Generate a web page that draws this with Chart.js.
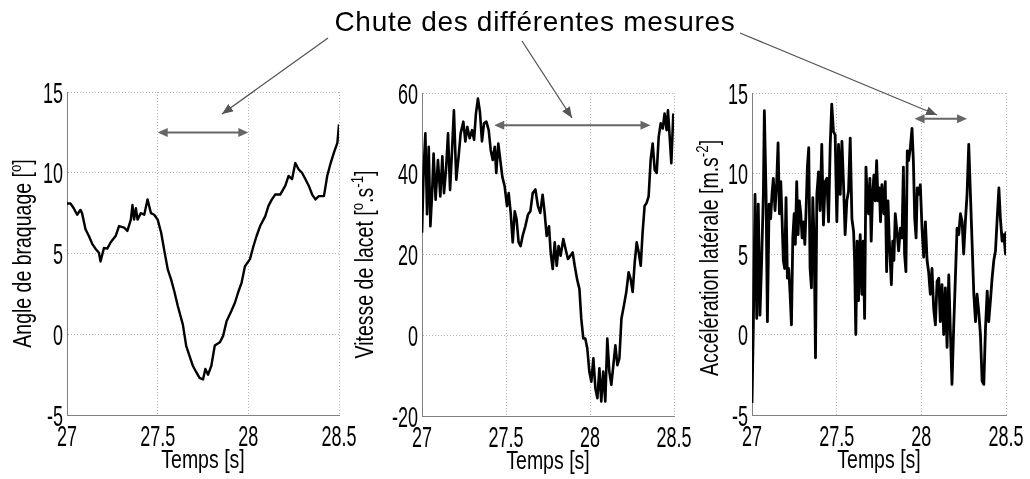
<!DOCTYPE html>
<html>
<head>
<meta charset="utf-8">
<script src="https://cdn.jsdelivr.net/npm/chart.js@4.4.1/dist/chart.umd.min.js"></script>
<style>
html, body { margin: 0; padding: 0; background: #fff; }
#wrap { position: relative; width: 1030px; height: 479px; overflow: hidden; }
#wrap canvas, #wrap svg { position: absolute; left: 0; top: 0; }
</style>
</head>
<body>
<div id="wrap">
  <canvas id="graph1" width="1030" height="479"></canvas>
  <canvas id="graph2" width="1030" height="479"></canvas>
  <canvas id="graph3" width="1030" height="479"></canvas>
  <svg width="1030" height="479" viewBox="0 0 1030 479">
    <defs>
      <marker id="head" markerUnits="userSpaceOnUse" markerWidth="11" markerHeight="9" refX="11" refY="4.5" orient="auto">
        <path d="M0,0 L11,4.5 L0,9 z" fill="#555"></path>
      </marker>
    </defs>
    <text x="535" y="31" text-anchor="middle" font-family="Liberation Sans, Arial, sans-serif" font-size="28" letter-spacing="0.7" fill="#000">Chute des différentes mesures</text>
    <line x1="328" y1="38" x2="222" y2="114" stroke="#555" stroke-width="1.3" marker-end="url(#head)"></line>
    <line x1="522" y1="41" x2="572" y2="118" stroke="#555" stroke-width="1.3" marker-end="url(#head)"></line>
    <line x1="740" y1="33" x2="937" y2="115" stroke="#555" stroke-width="1.3" marker-end="url(#head)"></line>
  </svg>
</div>
<script>
var tAngle = [27.000,27.019,27.037,27.056,27.074,27.083,27.102,27.120,27.139,27.157,27.176,27.185,27.204,27.222,27.241,27.269,27.287,27.315,27.333,27.352,27.361,27.370,27.380,27.389,27.407,27.426,27.444,27.463,27.481,27.500,27.519,27.537,27.556,27.574,27.593,27.611,27.639,27.657,27.676,27.694,27.713,27.731,27.750,27.763,27.778,27.796,27.815,27.843,27.861,27.880,27.907,27.926,27.944,27.963,27.981,28.009,28.028,28.046,28.065,28.093,28.111,28.130,28.148,28.176,28.204,28.222,28.241,28.259,28.278,28.296,28.315,28.333,28.352,28.370,28.389,28.417,28.435,28.454,28.472,28.491,28.500];
var angle = [8.1,8.1,7.8,7.4,7.7,7.5,6.5,6.1,5.6,5.3,5.05,4.5,5.35,5.3,5.7,6.1,6.7,6.6,6.4,7.1,8.0,7.1,7.8,7.1,7.5,7.4,8.35,7.5,7.4,7.1,6.3,5.15,4.0,3.4,2.6,1.75,0.6,-0.7,-1.35,-1.95,-2.35,-2.7,-2.8,-2.15,-2.5,-1.95,-0.7,-0.5,-0.1,0.8,1.45,1.95,2.6,3.2,4.2,4.65,5.45,6.1,6.7,7.3,7.95,8.35,8.65,8.65,9.2,9.8,9.6,10.6,10.2,10.0,9.6,9.2,8.65,8.35,8.55,8.55,9.8,10.6,11.25,11.85,13.0];

var tLacet = [27.000,27.010,27.020,27.030,27.040,27.050,27.060,27.069,27.081,27.095,27.109,27.121,27.131,27.143,27.155,27.167,27.179,27.190,27.204,27.218,27.230,27.246,27.258,27.270,27.284,27.298,27.310,27.321,27.333,27.345,27.357,27.369,27.383,27.397,27.409,27.421,27.433,27.442,27.454,27.466,27.478,27.492,27.506,27.516,27.528,27.540,27.552,27.563,27.575,27.587,27.599,27.615,27.631,27.645,27.659,27.675,27.690,27.704,27.718,27.730,27.742,27.756,27.766,27.778,27.790,27.802,27.813,27.825,27.841,27.855,27.869,27.883,27.897,27.909,27.923,27.937,27.948,27.960,27.972,27.984,27.996,28.008,28.020,28.032,28.044,28.056,28.067,28.079,28.091,28.103,28.115,28.127,28.139,28.151,28.163,28.175,28.187,28.202,28.216,28.230,28.242,28.254,28.266,28.278,28.290,28.302,28.313,28.325,28.337,28.349,28.361,28.373,28.385,28.397,28.409,28.421,28.433,28.444,28.456,28.464,28.476,28.484,28.496];
var lacet = [25.4,41,50,30,46.7,27,35,45,33.6,43.4,34.4,44.3,35.2,41,50,36,45.9,55.7,38.5,44.3,50,52.9,48,51.6,48.8,50.8,48.4,54.9,58.6,55.3,48,52.5,52.9,50.8,45.9,43.4,46.7,40.2,47.5,43.4,39.3,36.9,32,35.2,30.3,23,30.7,28.7,23,22.1,24.6,27,29.9,30.7,35.2,36.1,32,30.3,34.8,30.3,24.6,27,20.5,16.4,23,17.2,22.1,19.7,23.8,21.3,18.9,19.7,20.5,17.2,13.9,11.5,4.1,-0.8,-0.8,-3.3,-9,-11.5,-5.7,-13.1,-15.6,-8.2,-16.4,-9,-16.4,-0.8,-9,-12.3,-7.4,-2.5,-7.4,-5.7,4.1,7.4,10.7,15.6,13.9,10.7,18,23,20.5,17.2,25.4,32,32.8,34.4,43.4,47.5,41,40.2,49.2,52.5,51.2,54.9,50.8,55.7,48,42.6,54.9];

var tAccel = [27.000,27.008,27.018,27.028,27.037,27.047,27.057,27.067,27.073,27.083,27.091,27.101,27.110,27.118,27.126,27.136,27.146,27.154,27.162,27.170,27.178,27.185,27.193,27.201,27.209,27.217,27.225,27.233,27.241,27.249,27.256,27.264,27.272,27.280,27.288,27.296,27.304,27.312,27.320,27.327,27.335,27.343,27.351,27.359,27.367,27.375,27.383,27.393,27.402,27.412,27.422,27.432,27.442,27.452,27.462,27.471,27.481,27.491,
  27.501,27.511,27.521,27.531,27.540,27.550,27.560,27.570,27.580,27.590,27.600,27.606,27.613,27.621,27.629,27.639,27.649,27.657,27.665,27.673,27.680,27.688,27.696,27.704,27.712,27.720,27.728,27.736,27.744,27.752,27.759,27.767,27.779,27.787,27.795,27.803,27.811,27.823,27.831,27.838,27.846,27.856,27.866,27.876,27.886,27.894,27.901,27.909,27.917,27.925,27.935,27.945,27.953,27.961,27.969,27.976,27.984,
  27.994,28.004,28.014,28.024,28.034,28.043,28.053,28.063,28.073,28.083,28.093,28.103,28.112,28.122,28.132,28.142,28.152,28.162,28.172,28.181,28.191,28.201,28.211,28.221,28.231,28.241,28.250,28.260,28.270,28.280,28.290,28.300,28.310,28.320,28.329,28.339,28.349,28.359,28.369,28.379,28.389,28.398,28.408,28.418,28.428,28.438,28.448,28.458,28.467,28.477,28.487,28.497,28.500];
var accel = [-4.25,0.6,8.7,1.0,8.1,1.2,4.6,8.7,13.9,8.7,0.8,8.1,7.2,8.7,9.7,7.7,9.5,11.9,7.5,9.5,7.0,4.6,4.1,8.5,3.5,4.1,2.5,0.6,6.0,7.5,5.6,9.5,6.2,8.3,7.5,6.0,7.0,5.6,7.9,10.4,11.6,4.1,2.9,8.5,5.8,-1.45,8.7,10.1,7.7,11.8,6.8,9.5,9.7,7.0,11.8,14.3,12.6,12.4,
  7.0,11.8,8.7,12.0,9.5,6.2,8.3,8.9,12.2,7.2,6.4,4.6,0.0,5.8,2.1,6.2,2.5,5.8,1.0,10.4,8.7,7.5,9.7,5.8,8.7,9.9,8.3,10.8,8.3,9.1,7.0,9.3,7.5,9.5,3.9,8.3,5.8,3.1,5.8,4.6,7.5,6.4,5.2,6.6,6.0,10.4,5.0,3.9,11.4,10.8,11.6,12.8,10.8,7.2,6.0,9.1,8.7,
  9.3,6.6,4.8,7.0,4.6,3.9,2.5,4.1,1.6,0.6,3.3,3.5,0.8,3.1,0.0,2.9,-0.8,3.7,0.0,-3.1,0.4,3.5,6.6,6.2,7.5,7.0,5.0,7.0,8.7,11.8,8.7,5.6,2.5,0.8,2.5,1.4,0.0,-2.9,-3.1,0.4,2.7,0.8,2.1,3.5,4.6,5.2,7.2,9.1,7.2,5.8,6.2,5.0,6.4];

// axis ticks and labels (^{..} = superscript)
var timeTicks = { min: 27, max: 28.5, step: 0.5 };
var yTicksAngle = { min: -5, max: 15, step: 5 };
var yTicksLacet = { min: -20, max: 60, step: 20 };
var yTicksAccel = { min: -5, max: 15, step: 5 };
var xTitle = 'Temps [s]';
var yTitles = ['Angle de braquage [^{o}]', 'Vitesse de lacet [^{o}.s^{-1}]', 'Accélération latérale [m.s^{-2}]'];

// the "chute" spans marked with a double arrow: [t start, t end, level]
var spanAngle = [27.5, 28.0, 12.5];
var spanLacet = [27.43, 28.36, 52];
var spanAccel = [27.96, 28.27, 13.4];

var TICK_FONT = '29px "Liberation Sans", Arial, sans-serif';
var TITLE_FONT = '25px "Liberation Sans", Arial, sans-serif';
var SUP_FONT = '17px "Liberation Sans", Arial, sans-serif';

function squeezed(ctx, s, x, y, align, sx) {
  ctx.save();
  ctx.translate(x, y);
  ctx.scale(sx, 1);
  ctx.textAlign = align;
  ctx.fillText(s, 0, 0);
  ctx.restore();
}

// title text with superscripts, centred on 0,0 of the current transform
function richText(ctx, s, sx) {
  var parts = s.split(/\^\{([^}]*)\}/);
  var w = 0, i;
  for (i = 0; i < parts.length; i++) {
    ctx.font = i % 2 ? SUP_FONT : TITLE_FONT;
    w += ctx.measureText(parts[i]).width;
  }
  ctx.save();
  ctx.scale(sx, 1);
  ctx.textAlign = 'left';
  var x = -w / 2;
  for (i = 0; i < parts.length; i++) {
    ctx.font = i % 2 ? SUP_FONT : TITLE_FONT;
    ctx.fillText(parts[i], x, i % 2 ? -10 : 0);
    x += ctx.measureText(parts[i]).width;
  }
  ctx.restore();
}

// narrow MATLAB-like labels, placed from the chart scales
var axisText = {
  id: 'axisText',
  afterDraw: function(chart, args, o) {
    var ctx = chart.ctx, a = chart.chartArea;
    var xs = chart.scales.x, ys = chart.scales.y;
    ctx.save();
    ctx.fillStyle = '#000';
    ctx.textBaseline = 'alphabetic';
    ctx.font = TICK_FONT;
    xs.ticks.forEach(function(t) {
      squeezed(ctx, String(t.value), xs.getPixelForValue(t.value), a.bottom + 31, 'center', 0.62);
    });
    ys.ticks.forEach(function(t) {
      squeezed(ctx, String(t.value), a.left - 4, ys.getPixelForValue(t.value) + 10.5, 'right', 0.62);
    });
    ctx.font = TITLE_FONT;
    squeezed(ctx, xTitle, (a.left + a.right) / 2, a.bottom + 53, 'center', 0.78);
    ctx.translate(o.titleX, (a.top + a.bottom) / 2 + o.shift);
    ctx.rotate(-Math.PI / 2);
    richText(ctx, o.title, 0.78);
    ctx.restore();
  }
};

function arrowHead(ctx, x, y, dir) {
  ctx.beginPath();
  ctx.moveTo(x, y);
  ctx.lineTo(x - dir * 10, y - 4.5);
  ctx.lineTo(x - dir * 10, y + 4.5);
  ctx.closePath();
  ctx.fill();
}

var spanArrow = {
  id: 'spanArrow',
  afterDatasetsDraw: function(chart, args, o) {
    var ctx = chart.ctx, xs = chart.scales.x, ys = chart.scales.y;
    var x0 = xs.getPixelForValue(o.span[0]), x1 = xs.getPixelForValue(o.span[1]);
    var y = ys.getPixelForValue(o.span[2]);
    ctx.save();
    ctx.strokeStyle = '#666';
    ctx.fillStyle = '#666';
    ctx.lineWidth = 2;
    ctx.beginPath();
    ctx.moveTo(x0 + 4, y);
    ctx.lineTo(x1 - 4, y);
    ctx.stroke();
    arrowHead(ctx, x0, y, -1);
    arrowHead(ctx, x1, y, 1);
    ctx.restore();
  }
};

function creategraph(kanvas, t, v, yt, cfg) {
  var pts = [];
  for (var i = 0; i < Math.min(t.length, v.length); i++) {
    pts.push({ x: t[i], y: v[i] });
  }
  return new Chart(kanvas, {
    type: 'line',
    data: { datasets: [{ data: pts, borderColor: '#000', borderWidth: cfg.lw, pointRadius: 0, tension: 0, fill: false, borderJoinStyle: 'round' }] },
    options: {
      responsive: false,
      animation: false,
      layout: { padding: cfg.pad },
      plugins: {
        legend: { display: false },
        tooltip: { enabled: false },
        axisText: { title: cfg.title, titleX: cfg.titleX, shift: cfg.shift },
        spanArrow: { span: cfg.span }
      },
      scales: {
        x: {
          type: 'linear', min: timeTicks.min, max: timeTicks.max,
          ticks: { display: false, stepSize: timeTicks.step },
          grid: { color: '#b4b4b4', lineWidth: 1, drawTicks: false },
          border: { display: true, color: '#808080', width: 1, dash: [1, 2] },
          afterFit: function(s) { s.height = 0; s.paddingLeft = 0; s.paddingRight = 0; }
        },
        y: {
          min: yt.min, max: yt.max,
          ticks: { display: false, stepSize: yt.step },
          grid: { color: '#b4b4b4', lineWidth: 1, drawTicks: false },
          border: { display: true, color: '#808080', width: 1, dash: [1, 2] },
          afterFit: function(s) { s.width = 0; s.paddingTop = 0; s.paddingBottom = 0; }
        }
      }
    },
    plugins: [axisText, spanArrow]
  });
}

creategraph(document.getElementById('graph1'), tAngle, angle, yTicksAngle,
  { lw: 2.4, title: yTitles[0], titleX: 31, shift: 0, span: spanAngle,
    pad: { left: 67, right: 691, top: 92, bottom: 64 } });
creategraph(document.getElementById('graph2'), tLacet, lacet, yTicksLacet,
  { lw: 2.6, title: yTitles[1], titleX: 373, shift: 10, span: spanLacet,
    pad: { left: 422, right: 356, top: 93, bottom: 63 } });
creategraph(document.getElementById('graph3'), tAccel, accel, yTicksAccel,
  { lw: 2.8, title: yTitles[2], titleX: 718, shift: 4, span: spanAccel,
    pad: { left: 752, right: 24, top: 93, bottom: 64 } });
</script>
</body>
</html>
